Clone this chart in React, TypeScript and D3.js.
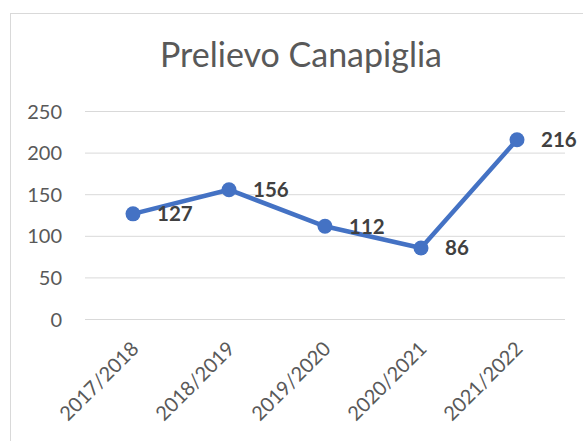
import React from "react";
import * as d3 from "d3";

const categories = ["2017/2018", "2018/2019", "2019/2020", "2020/2021", "2021/2022"];
const values = [127, 156, 112, 86, 216];
const yTicks = [0, 50, 100, 150, 200, 250];
const title = "Prelievo Canapiglia";

const W = 583;
const H = 441;
const FONT = "Lato, 'Open Sans', sans-serif";

export default function App() {
  const x = d3.scaleBand<string>().domain(categories).range([85, 565]);
  const y = d3.scaleLinear().domain([0, 250]).range([319.5, 111.5]);
  const cx = (c: string) => (x(c) as number) + x.bandwidth() / 2;
  const line = d3
    .line<number>()
    .x((_, i) => cx(categories[i]))
    .y((d) => y(d));

  return (
    <svg
      width={W}
      height={H}
      style={{ position: "absolute", left: 0, top: 0, background: "#fff" }}
    >
      <rect x={10.5} y={13.5} width={620} height={460} fill="#fff" stroke="#d9d9d9" strokeWidth={1} />
      <text x={301} y={67} textAnchor="middle" fontFamily={FONT} fontSize={34} fill="#595959">
        {title}
      </text>
      {yTicks.map((t) => (
        <g key={t}>
          <line x1={85} x2={565} y1={y(t)} y2={y(t)} stroke="#d9d9d9" strokeWidth={1} />
          <text
            x={62}
            y={y(t)}
            dy="0.35em"
            textAnchor="end"
            fontFamily={FONT}
            fontSize={20}
            fill="#595959"
          >
            {t}
          </text>
        </g>
      ))}
      {categories.map((c) => (
        <text
          key={c}
          transform={`translate(${cx(c) + 7},${350}) rotate(-45)`}
          textAnchor="end"
          fontFamily={FONT}
          fontSize={20}
          fill="#595959"
        >
          {c}
        </text>
      ))}
      <path d={line(values) as string} fill="none" stroke="#4472C4" strokeWidth={4.5} strokeLinejoin="round" />
      {values.map((v, i) => (
        <circle key={i} cx={cx(categories[i])} cy={y(v)} r={7.5} fill="#4472C4" />
      ))}
      {values.map((v, i) => (
        <text
          key={"l" + i}
          x={cx(categories[i]) + 24}
          y={y(v)}
          dy="0.36em"
          fontFamily={FONT}
          fontWeight="bold"
          fontSize={20.5}
          fill="#404040"
        >
          {v}
        </text>
      ))}
    </svg>
  );
}
